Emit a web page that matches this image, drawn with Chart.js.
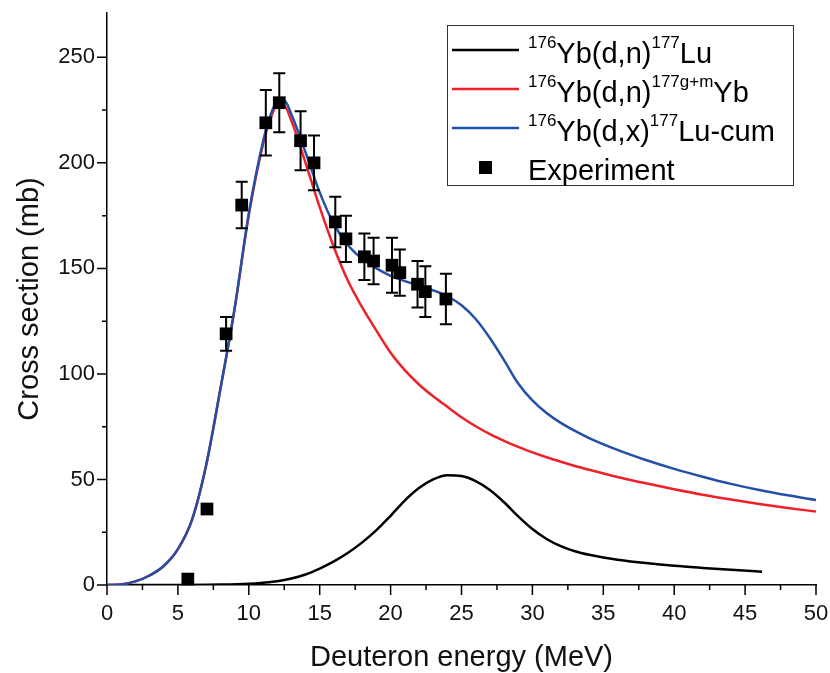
<!DOCTYPE html>
<html>
<head>
<meta charset="utf-8">
<script src="https://cdn.jsdelivr.net/npm/chart.js@4"></script>
<style>
  html, body { margin: 0; padding: 0; background: #fff; }
</style>
</head>
<body>
<canvas id="xsChart" width="830" height="673"></canvas>
<script>
// Experiment (energy in MeV, cross section in mb, error in mb)
const expEnergy = [5.7, 7.05, 8.4, 9.5, 11.2, 12.15, 13.65, 14.6, 16.1, 16.85, 18.15, 18.8, 20.1, 20.65, 21.9, 22.45, 23.9];
const expXs     = [2.8, 36, 119, 180, 219, 228.5, 210.5, 200, 172, 164, 155.5, 153.5, 151.5, 148, 142.5, 139, 135.5];
const expErr    = [0, 0, 8, 11, 15.5, 14, 14, 13, 12, 11, 11, 11, 13, 11, 11, 12, 12];

// Model curves
const curveEnergy = [0, 1, 2, 3, 4, 5, 6, 7, 8, 9, 10, 11, 11.5, 12, 12.5, 13, 14, 15, 16, 17, 18, 19, 20,
                     21, 22, 23, 24, 25, 26, 27, 28, 29, 30, 31, 32, 33, 34, 36, 38, 40, 42, 44, 46, 48, 50];
const cumLu = [0, 0.3, 1.7, 4.5, 9, 17, 31, 57, 93, 131, 176, 210, 222, 229, 229.5, 223, 205, 186, 171, 161, 154.5, 150, 146.5,
               144, 141.8, 139.6, 136.8, 132.5, 126, 117, 106.5, 95.5, 87.5, 81.5, 76.8, 73, 69.6, 64, 59.2, 55, 51.3, 47.9, 45, 42.5, 40.3];
const ybGM  = [0, 0.3, 1.7, 4.5, 9, 17, 31, 57, 93, 130.8, 175.3, 208.7, 220.3, 227.2, 227, 220, 200, 179, 160, 144, 131.5, 120.5, 110,
               101.8, 95, 89.4, 84.4, 79.5, 75.2, 71.5, 68.3, 65.4, 62.8, 60.5, 58.4, 56.4, 54.6, 51.2, 48.2, 45.4, 42.8, 40.5, 38.4, 36.5, 34.8];

const luEnergy = [0, 4, 8, 10, 11, 12, 13, 14, 15, 16, 17, 18, 19, 20, 21, 22, 23, 24, 25, 26, 27, 28, 29, 30,
                  31, 32, 33, 34, 35, 36, 38, 40, 42, 44, 46.2];
const directLu = [0, 0, 0.2, 0.6, 1.1, 1.8, 3.1, 5, 7.8, 11.2, 15.3, 20.2, 26, 32.8, 40, 45.9, 50, 52, 51.6, 49.2, 45, 39.2, 32.5, 26.5,
                  21.8, 18.4, 16, 14.3, 13, 12, 10.4, 9.1, 8.1, 7.2, 6.3];

// Tick values
const xTicks = [0, 2.5, 5, 7.5, 10, 12.5, 15, 17.5, 20, 22.5, 25, 27.5, 30, 32.5, 35, 37.5, 40, 42.5, 45, 47.5, 50];
const yTicks = [0, 25, 50, 75, 100, 125, 150, 175, 200, 225, 250];

// Legend text, [text, superscript?]
const legendLabels = [
    [["176", true], ["Yb(d,n)", false], ["177", true], ["Lu", false]],
    [["176", true], ["Yb(d,n)", false], ["177g+m", true], ["Yb", false]],
    [["176", true], ["Yb(d,x)", false], ["177", true], ["Lu-cum", false]],
    [["Experiment", false]]
];

const FONT = '"Liberation Sans", Arial, sans-serif';

function pairs(xs, ys) {
    return xs.map((x, i) => ({ x: x, y: ys[i] }));
}

// error bars for the experiment points
const errorBars = {
    id: "errorBars",
    afterDatasetsDraw(chart) {
        const xs = chart.scales.x, ys = chart.scales.y, c = chart.ctx;
        c.save();
        c.strokeStyle = "#000";
        c.lineWidth = 2;
        c.beginPath();
        expEnergy.forEach((e, i) => {
            if (!expErr[i]) return;
            const px = xs.getPixelForValue(e);
            const top = ys.getPixelForValue(expXs[i] + expErr[i]);
            const bot = ys.getPixelForValue(expXs[i] - expErr[i]);
            c.moveTo(px, top); c.lineTo(px, bot);
            c.moveTo(px - 6, top); c.lineTo(px + 6, top);
            c.moveTo(px - 6, bot); c.lineTo(px + 6, bot);
        });
        c.stroke();
        c.restore();
    }
};

// outward major / minor tick marks
const axisTicks = {
    id: "axisTicks",
    afterDraw(chart) {
        const x = chart.scales.x, y = chart.scales.y, a = chart.chartArea, c = chart.ctx;
        c.save();
        c.strokeStyle = "#000";
        c.lineWidth = 1.5;
        c.beginPath();
        x.ticks.forEach(t => {
            const p = x.getPixelForValue(t.value);
            const len = t.value % 5 === 0 ? 10 : 5;
            c.moveTo(p, a.bottom); c.lineTo(p, a.bottom + len);
        });
        y.ticks.forEach(t => {
            const p = y.getPixelForValue(t.value);
            const len = t.value % 50 === 0 ? 10 : 5;
            c.moveTo(a.left, p); c.lineTo(a.left - len, p);
        });
        c.stroke();
        c.restore();
    }
};

// boxed legend with superscripts
const boxLegend = {
    id: "boxLegend",
    afterDraw(chart) {
        const c = chart.ctx;
        const order = [3, 2, 1, 0]; // dataset index for each legend row
        c.save();
        c.fillStyle = "#fff";
        c.fillRect(447, 25, 346, 160);
        c.strokeStyle = "#333";
        c.lineWidth = 1;
        c.strokeRect(447.5, 25.5, 346, 160);
        legendLabels.forEach((parts, i) => {
            const ds = chart.data.datasets[order[i]];
            const cy = 50 + i * 39;
            if (ds.showLine) {
                c.strokeStyle = ds.borderColor;
                c.lineWidth = 2.5;
                c.beginPath();
                c.moveTo(452, cy); c.lineTo(519, cy);
                c.stroke();
            } else {
                c.fillStyle = ds.backgroundColor;
                c.fillRect(479, cy - 6, 13, 13);
            }
            let tx = 528;
            const base = cy + 13;
            c.fillStyle = "#000";
            c.textBaseline = "alphabetic";
            parts.forEach(([s, sup]) => {
                c.font = (sup ? "17px " : "29px ") + FONT;
                c.fillText(s, tx, sup ? base - 15 : base);
                tx += c.measureText(s).width;
            });
        });
        c.restore();
    }
};

const ctx = document.getElementById("xsChart").getContext("2d");
new Chart(ctx, {
    type: "scatter",
    data: {
        datasets: [
            {
                label: "Experiment",
                data: pairs(expEnergy, expXs),
                pointStyle: "rect",
                pointRadius: 9,
                backgroundColor: "#000",
                borderWidth: 0,
                showLine: false,
                clip: false,
                order: 0
            },
            {
                label: "176Yb(d,x)177Lu-cum",
                data: pairs(curveEnergy, cumLu),
                showLine: true,
                borderColor: "#2350a6",
                borderWidth: 2.5,
                pointRadius: 0,
                cubicInterpolationMode: "monotone",
                order: 1
            },
            {
                label: "176Yb(d,n)177g+mYb",
                data: pairs(curveEnergy, ybGM),
                showLine: true,
                borderColor: "#ee2029",
                borderWidth: 2.5,
                pointRadius: 0,
                cubicInterpolationMode: "monotone",
                order: 2
            },
            {
                label: "176Yb(d,n)177Lu",
                data: pairs(luEnergy, directLu),
                showLine: true,
                borderColor: "#000",
                borderWidth: 2.5,
                pointRadius: 0,
                cubicInterpolationMode: "monotone",
                order: 3
            }
        ]
    },
    options: {
        responsive: false,
        animation: false,
        devicePixelRatio: 1,
        layout: { padding: { top: 13, right: 14, left: 0, bottom: 0 } },
        plugins: { legend: { display: false }, tooltip: { enabled: false } },
        scales: {
            x: {
                type: "linear",
                min: 0,
                max: 50,
                afterBuildTicks: s => { s.ticks = xTicks.map(v => ({ value: v })); },
                afterFit: s => { s.height = 88; s.paddingLeft = 0; s.paddingRight = 0; },
                ticks: {
                    callback: v => (v % 5 === 0 ? v : ""),
                    autoSkip: false,
                    maxRotation: 0,
                    padding: 16,
                    color: "#111",
                    font: { family: FONT, size: 22 }
                },
                grid: { drawOnChartArea: false, drawTicks: false },
                border: { color: "#000", width: 1.5 },
                title: {
                    display: true,
                    text: "Deuteron energy (MeV)",
                    color: "#111",
                    font: { family: FONT, size: 29, lineHeight: 1 },
                    padding: { top: 0, bottom: 1 }
                }
            },
            y: {
                type: "linear",
                min: 0,
                max: 271,
                afterBuildTicks: s => { s.ticks = yTicks.map(v => ({ value: v })); },
                afterFit: s => { s.width = 107; s.paddingTop = 0; s.paddingBottom = 0; },
                ticks: {
                    callback: v => (v % 50 === 0 ? v : ""),
                    padding: 12,
                    color: "#111",
                    font: { family: FONT, size: 22 }
                },
                grid: { drawOnChartArea: false, drawTicks: false },
                border: { color: "#000", width: 1.5 },
                title: {
                    display: true,
                    text: "Cross section (mb)",
                    color: "#111",
                    font: { family: FONT, size: 29, lineHeight: 1 },
                    padding: { top: 15, bottom: 0 }
                }
            }
        }
    },
    plugins: [errorBars, axisTicks, boxLegend]
});
</script>
</body>
</html>
